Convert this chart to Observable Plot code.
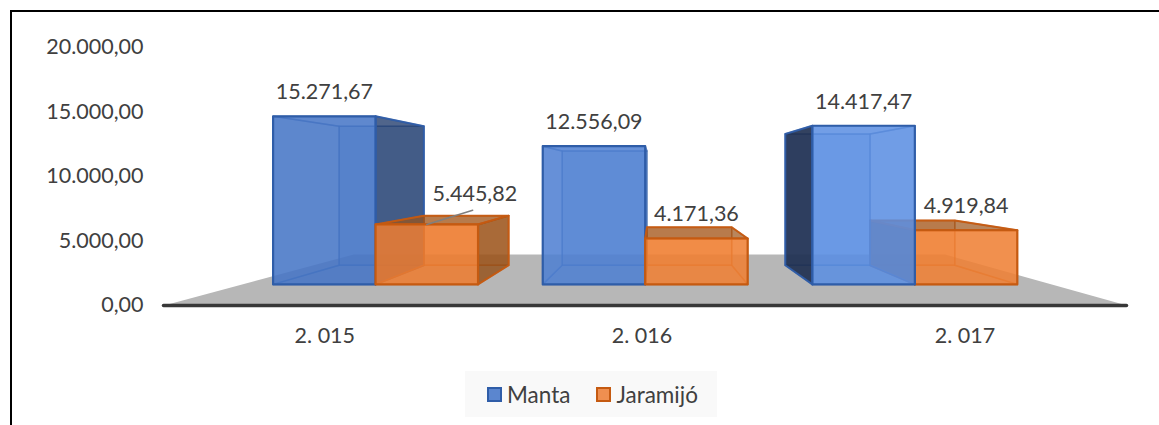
<!DOCTYPE html>
<html><head><meta charset="utf-8">
<script src="https://cdn.jsdelivr.net/npm/d3@7"></script>
<script src="https://cdn.jsdelivr.net/npm/@observablehq/plot@0.6"></script>
<style>
html,body{margin:0;padding:0;background:#fff;overflow:hidden}
#wrap{position:relative;width:1159px;height:425px;font-family:Lato,sans-serif}
#frame{position:absolute;left:10px;top:10px;right:-10px;bottom:-10px;border-top:2px solid #000;border-left:2px solid #000}
#legend{position:absolute;left:465px;top:371px;width:252px;height:46px;background:#f9f9f9;display:flex;align-items:center;padding-left:22px;box-sizing:border-box;font-size:22.5px;color:#404040}
#legend span{display:inline-flex;align-items:center;margin-right:26px}
#legend i{display:inline-block;box-sizing:border-box;width:15px;height:15px;border:2px solid;margin-right:5px}
</style></head><body>
<div id="wrap"><div id="frame"></div><div id="chart"></div><div id="legend"></div></div>
<script>
const years = ["2. 015", "2. 016", "2. 017"];
const seriesNames = ["Manta", "Jaramijó"];
const manta = [15271.67, 12556.09, 14417.47];
const jaramijo = [5445.82, 4171.36, 4919.84];
const yTicks = [0, 5000, 10000, 15000, 20000];

const fmt = new Intl.NumberFormat("de-DE", {minimumFractionDigits: 2, maximumFractionDigits: 2});

// simple perspective: depth factor s about a vanishing point
const vpX = 1.031, vpPx = 173, S_FRONT = 0.84, S_BACK = 0.695, S_FLOOR = 0.614, BAR = 0.38, SHIFT = -0.007;
const pxPerUnit = 0.0129, barPxPerUnit = 0.0131, FS = 21.5;
const X = (u, s) => vpX + (u - vpX) * s;
const Y = (v, s) => (305 - (vpPx + (305 - barPxPerUnit * v - vpPx) * s)) / pxPerUnit;

const palette = [
  {base: ["#4675c6", "#4f80d2", "#5c8fe2"], line: "#2f5da8", dark: "#1f3864", darkest: "#1c2b4a", top: 0.72},
  {base: ["#ed7d31", "#ef8035", "#ef8035"], line: "#c55a11", dark: "#8a4a14", darkest: "#8a4a14", top: 0.58}
];

const bars = [];
years.forEach((_, i) => {
  bars.push({i, j: 0, v: manta[i], a: i + SHIFT - BAR, b: i + SHIFT});
  bars.push({i, j: 1, v: jaramijo[i], a: i + SHIFT, b: i + SHIFT + BAR});
});
bars.sort((p, q) => Math.abs((q.a + q.b) / 2 - vpX) - Math.abs((p.a + p.b) / 2 - vpX));

const faces = [];
let id = 0;
function face(corners, fill, fo, stroke, so, sw) {
  const k = id++;
  [...corners, corners[0]].forEach(([u, v, s]) => faces.push({k, x: X(u, s), y: Y(v, s), fill, fo, stroke, so, sw}));
}
for (const {i, j, v, a, b} of bars) {
  const c = palette[j], base = c.base[i];
  const f = S_FRONT, k = S_BACK;
  const rightOuter = b < vpX - 0.1, leftOuter = a > vpX;
  const topOuter = (305 - barPxPerUnit * v) > vpPx;
  face([[a,0,k],[b,0,k],[b,v,k],[a,v,k]], base, 0.5, c.line, 0.5, 1.5);           // back
  face([[a,0,f],[b,0,f],[b,0,k],[a,0,k]], base, 0.3, c.line, 0.5, 1.5);           // floor of bar
  if (!leftOuter) face([[a,0,f],[a,0,k],[a,v,k],[a,v,f]], base, 0.3, c.line, 0.5, 1.5);
  if (!rightOuter) face([[b,0,f],[b,0,k],[b,v,k],[b,v,f]], base, 0.3, c.line, 0.5, 1.5);
  if (!topOuter) face([[a,v,f],[b,v,f],[b,v,k],[a,v,k]], base, 0.25, c.line, 0.5, 1.5);
  if (topOuter) face([[a,v,f],[b,v,f],[b,v,k],[a,v,k]], c.dark, c.top, c.line, 0.95, 2);
  if (leftOuter) face([[a,0,f],[a,0,k],[a,v,k],[a,v,f]], c.darkest, 0.88, c.line, 0.95, 2);
  if (rightOuter) face([[b,0,f],[b,0,k],[b,v,k],[b,v,f]], c.dark, 0.72, c.line, 0.95, 2);
  face([[a,0,f],[b,0,f],[b,v,f],[a,v,f]], base, 0.82, c.line, 1, 2.2);               // front
}

const floor = [[-0.5,1],[2.5,1],[2.5,S_FLOOR],[-0.5,S_FLOOR]].map(([u, s]) => ({x: X(u, s), y: (305 - (vpPx + (305 - vpPx) * s)) / pxPerUnit}));

const labels = bars.map(b => ({x: X((b.a + b.b) / 2, S_FRONT), y: Y(b.v, S_FRONT), t: fmt.format(b.v), i: b.i, j: b.j}));
const plain = labels.filter(d => !(d.i === 0 && d.j === 1));
const moved = labels.filter(d => d.i === 0 && d.j === 1);

const chart = Plot.plot({
  width: 1159, height: 425, marginLeft: 143, marginBottom: 98, marginTop: 0, marginRight: 0,
  style: {fontFamily: "Lato, sans-serif", background: "transparent", overflow: "visible"},
  x: {domain: [-324 / 321, 835 / 321], range: [0, 1159], axis: null},
  y: {domain: [0, 20000], range: [305, 47], axis: null},
  color: {type: "identity"}, opacity: {type: "identity"},
  marks: [
    Plot.line(floor, {x: "x", y: "y", fill: "#b7b7b7", stroke: "none"}),
    Plot.line(faces, {x: "x", y: "y", z: "k", fill: "fill", fillOpacity: "fo", stroke: "stroke", strokeOpacity: "so", strokeWidth: "sw"}),
    Plot.ruleY([0], {x1: -0.5, x2: 2.5, stroke: "#383838", strokeWidth: 3.5, strokeLinecap: "round"}),
    Plot.line(moved.flatMap(d => [{x: d.x, y: d.y}, {x: d.x + 0.143, y: d.y + 1100}]), {x: "x", y: "y", stroke: "#7f7f7f", strokeWidth: 1.5}),
    Plot.text(plain, {x: "x", y: "y", text: "t", dy: -24, fontSize: FS, fill: "#404040"}),
    Plot.text(moved, {x: "x", y: "y", text: "t", dx: 48, dy: -30, fontSize: FS, fill: "#404040"}),
    Plot.axisY({ticks: yTicks, anchor: "left", tickSize: 0, tickPadding: 0, label: null, fontSize: FS, fill: "#404040", tickFormat: d => fmt.format(d)}),
    Plot.axisX({ticks: [0.001, 0.989, 1.995], anchor: "bottom", tickSize: 0, tickPadding: 0, label: null, fontSize: FS, fill: "#404040", tickFormat: d => years[Math.round(d)]})
  ]
});
document.getElementById("chart").appendChild(chart);

const legend = document.getElementById("legend");
seriesNames.forEach((n, j) => {
  const s = document.createElement("span");
  const sw = document.createElement("i");
  sw.style.background = j ? "#ef8f50" : "#5b86cf";
  sw.style.borderColor = palette[j].line;
  s.appendChild(sw);
  s.appendChild(document.createTextNode(n));
  legend.appendChild(s);
});
</script>
</body></html>
